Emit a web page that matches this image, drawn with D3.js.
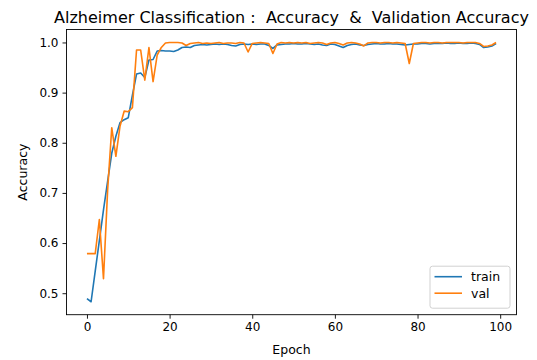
<!DOCTYPE html>
<html>
<head>
<meta charset="utf-8">
<script src="https://cdn.jsdelivr.net/npm/d3@7"></script>
<style>
  body { margin: 0; background: #fff; }
  text { font-family: "DejaVu Sans", sans-serif; fill: #000; }
</style>
</head>
<body>
<div id="chart"></div>
<script>
var svgWidth = 537;
var svgHeight = 360;

// axes box (pixels)
var margin = { top: 29.5, right: 20.5, bottom: 45.3, left: 66.5 };
var width = svgWidth - margin.left - margin.right;
var height = svgHeight - margin.top - margin.bottom;

// data
var trainAcc = [
  0.489, 0.483, 0.544, 0.605, 0.666, 0.723, 0.779, 0.813, 0.840, 0.846,
  0.850, 0.895, 0.937, 0.939, 0.930, 0.965, 0.966, 0.983, 0.984, 0.983,
  0.983, 0.982, 0.985, 0.990, 0.991, 0.990, 0.994, 0.995, 0.996, 0.995,
  0.996, 0.997, 0.996, 0.997, 0.996, 0.994, 0.993, 0.996, 0.997, 0.996,
  0.997, 0.996, 0.997, 0.997, 0.994, 0.988, 0.995, 0.996, 0.997, 0.997,
  0.998, 0.997, 0.997, 0.998, 0.997, 0.996, 0.997, 0.995, 0.994, 0.997,
  0.996, 0.993, 0.990, 0.994, 0.996, 0.997, 0.995, 0.994, 0.996, 0.997,
  0.998, 0.997, 0.997, 0.998, 0.997, 0.997, 0.996, 0.995, 0.996, 0.997,
  0.997, 0.998, 0.998, 0.997, 0.998, 0.998, 0.998, 0.999, 0.998, 0.998,
  0.999, 0.998, 0.998, 0.999, 0.998, 0.996, 0.990, 0.991, 0.993, 0.998
];
var valAcc = [
  0.579, 0.579, 0.579, 0.647, 0.529, 0.705, 0.830, 0.773, 0.833, 0.863,
  0.862, 0.870, 0.985, 0.985, 0.925, 0.990, 0.922, 0.975, 0.990, 0.999,
  1.000, 1.000, 1.000, 0.999, 0.994, 0.998, 0.999, 1.000, 0.998, 0.999,
  0.998, 0.999, 1.000, 0.998, 0.999, 0.999, 0.998, 1.000, 0.999, 0.981,
  0.998, 0.999, 1.000, 0.999, 0.998, 0.978, 0.997, 1.000, 0.999, 1.000,
  0.999, 1.000, 0.999, 1.000, 0.998, 0.999, 1.000, 0.999, 0.996, 0.999,
  1.000, 0.998, 0.995, 0.999, 1.000, 0.999, 0.997, 0.993, 0.999, 1.000,
  1.000, 0.999, 1.000, 1.000, 0.999, 1.000, 0.999, 0.998, 0.958, 0.998,
  0.999, 1.000, 1.000, 0.999, 1.000, 1.000, 0.999, 1.000, 1.000, 1.000,
  1.000, 0.999, 1.000, 1.000, 1.000, 0.998, 0.992, 0.993, 0.995, 1.000
];
var epochs = d3.range(trainAcc.length);
var xTicks = [0, 20, 40, 60, 80, 100];
var yTicks = [0.5, 0.6, 0.7, 0.8, 0.9, 1.0];
var seriesNames = ["train", "val"];
var seriesColors = ["#1f77b4", "#ff7f0e"];

var svg = d3.select("#chart")
  .append("svg")
  .attr("width", svgWidth)
  .attr("height", svgHeight);

var chartGroup = svg.append("g")
  .attr("transform", `translate(${margin.left}, ${margin.top})`);

// matplotlib-like 5% margins
var xMin = d3.min(epochs), xMax = d3.max(epochs);
var xPad = (xMax - xMin) * 0.05;
var yMin = d3.min(trainAcc.concat(valAcc)), yMax = d3.max(trainAcc.concat(valAcc));
var yPad = (yMax - yMin) * 0.05;

var xLinearScale = d3.scaleLinear()
  .domain([xMin - xPad, xMax + xPad])
  .range([0, width]);

var yLinearScale = d3.scaleLinear()
  .domain([yMin - yPad, yMax + yPad])
  .range([height, 0]);

var bottomAxis = d3.axisBottom(xLinearScale)
  .tickValues(xTicks)
  .tickFormat(d3.format("d"))
  .tickSize(4)
  .tickPadding(4);
var leftAxis = d3.axisLeft(yLinearScale)
  .tickValues(yTicks)
  .tickFormat(d3.format(".1f"))
  .tickSize(4)
  .tickPadding(4);

var xAxis = chartGroup.append("g")
  .attr("transform", `translate(0, ${height})`)
  .call(bottomAxis);
var yAxis = chartGroup.append("g")
  .call(leftAxis);

[xAxis, yAxis].forEach(function(ax) {
  ax.select(".domain").remove();
  ax.selectAll("line").attr("stroke", "#000").attr("stroke-width", 0.9);
  ax.selectAll("text")
    .style("font-family", "DejaVu Sans")
    .style("font-size", "12px")
    .attr("fill", "#000");
});

// lines
var line = d3.line()
  .x((d, i) => xLinearScale(epochs[i]))
  .y(d => yLinearScale(d));

[trainAcc, valAcc].forEach(function(series, i) {
  chartGroup.append("path")
    .datum(series)
    .attr("fill", "none")
    .attr("stroke", seriesColors[i])
    .attr("stroke-width", 1.6)
    .attr("stroke-linejoin", "round")
    .attr("d", line);
});

// frame
chartGroup.append("rect")
  .attr("width", width)
  .attr("height", height)
  .attr("fill", "none")
  .attr("stroke", "#000")
  .attr("stroke-width", 0.9);

// title and labels
svg.append("text")
  .attr("x", margin.left + width / 2)
  .attr("y", 23)
  .attr("text-anchor", "middle")
  .style("font-size", "16px")
  .style("white-space", "pre")
  .text("Alzheimer Classification :  Accuracy  &  Validation Accuracy");

svg.append("text")
  .attr("x", margin.left + width / 2)
  .attr("y", 354)
  .attr("text-anchor", "middle")
  .style("font-size", "12.5px")
  .text("Epoch");

svg.append("text")
  .attr("transform", `translate(27, ${margin.top + height / 2}) rotate(-90)`)
  .attr("text-anchor", "middle")
  .style("font-size", "12.5px")
  .text("Accuracy");

// legend, lower right
var legend = chartGroup.append("g")
  .attr("transform", `translate(${width - 86.5}, ${height - 48.5})`);

legend.append("rect")
  .attr("width", 80)
  .attr("height", 42)
  .attr("rx", 2.5)
  .attr("fill", "#fff")
  .attr("fill-opacity", 0.8)
  .attr("stroke", "#ccc")
  .attr("stroke-width", 0.9);

seriesNames.forEach(function(name, i) {
  var ly = 10.5 + i * 16.5;
  legend.append("line")
    .attr("x1", 4.5).attr("x2", 32)
    .attr("y1", ly).attr("y2", ly)
    .attr("stroke", seriesColors[i])
    .attr("stroke-width", 1.6);
  legend.append("text")
    .attr("x", 41)
    .attr("y", ly + 4.5)
    .style("font-size", "12.5px")
    .text(name);
});
</script>
</body>
</html>
